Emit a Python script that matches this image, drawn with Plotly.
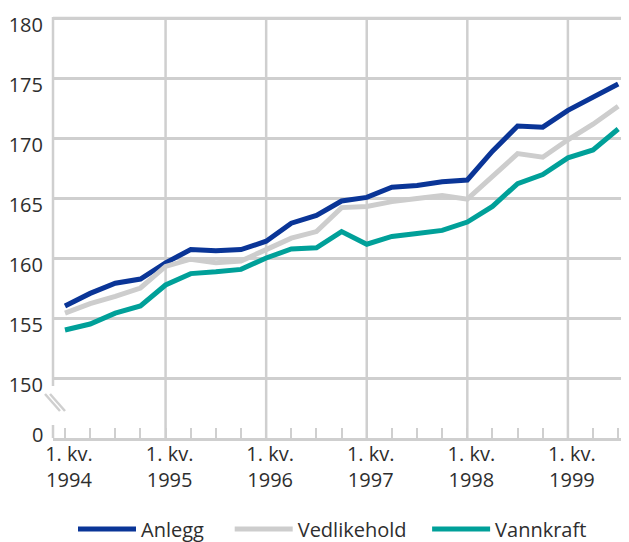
import plotly.graph_objects as go

quarters = list(range(23))  # 1. kv. 1994 .. 3. kv. 1999
year_ticks = [0, 4, 8, 12, 16, 20]
year_labels = ["1. kv.<br>1994", "1. kv.<br>1995", "1. kv.<br>1996",
               "1. kv.<br>1997", "1. kv.<br>1998", "1. kv.<br>1999"]
year_grid = [4, 8, 12, 16, 20]

anlegg = [156.0, 157.05, 157.9, 158.25, 159.6, 160.7, 160.6, 160.7, 161.4, 162.9,
          163.55, 164.75, 165.05, 165.9, 166.05, 166.35, 166.5, 168.9, 171.0, 170.9,
          172.3, 173.4, 174.5]
vedlikehold = [155.4, 156.2, 156.8, 157.5, 159.3, 159.9, 159.6, 159.75, 160.7, 161.65,
               162.2, 164.2, 164.3, 164.7, 164.95, 165.2, 164.9, 166.8, 168.7, 168.4,
               169.85, 171.15, 172.65]
vannkraft = [154.0, 154.5, 155.4, 156.0, 157.75, 158.7, 158.85, 159.05, 160.0, 160.75,
             160.85, 162.2, 161.15, 161.8, 162.05, 162.3, 163.0, 164.3, 166.2, 166.95,
             168.35, 169.0, 170.75]

y_tickvals = [150, 155, 160, 165, 170, 175, 180]
y_ticktext = ["150", "155", "160", "165", "170", "175", "180"]
y_top = 180
y_base = 145      # bottom of the broken axis
y_base_label = "0"

NB = "\u00a0"
series = [("Anlegg", anlegg, "#0a3597", NB * 4),
          ("Vedlikehold", vedlikehold, "#cdcdcd", NB * 3),
          ("Vannkraft", vannkraft, "#00a099", "")]

GRID = "#cfcfcf"
TXT = "#2e2e2e"
FONT = "Open Sans"

fig = go.Figure()
for name, vals, col, pad in series:
    fig.add_trace(go.Scatter(x=quarters, y=vals, name=name + pad, mode="lines",
                             line=dict(color=col, width=5)))

W, H = 621, 534  # page body has an 8px margin
xr = [-0.477, 22.43]
fig.update_layout(
    width=W, height=H,
    margin=dict(l=45, r=0, t=7, b=104, autoexpand=False),
    paper_bgcolor="white", plot_bgcolor="white",
    font=dict(family=FONT, size=20, color=TXT),
    showlegend=True,
    legend=dict(orientation="h", xref="container", yref="container",
                x=65 / W, xanchor="left", y=13 / H, yanchor="middle",
                itemwidth=58, font=dict(size=20, color=TXT), traceorder="normal"),
    xaxis=dict(range=xr, tickmode="array", tickvals=year_ticks, ticktext=year_labels,
               showgrid=False, zeroline=False, showline=True, linecolor=GRID, linewidth=2.5,
               ticks="inside", ticklen=10, tickwidth=2, tickcolor=GRID,
               ticklabelshift=4, ticklabelstandoff=-4, automargin=False,
               ticklabeloverflow="allow",
               minor=dict(dtick=1, tick0=0, ticks="inside", ticklen=10, tickwidth=2,
                          tickcolor=GRID, showgrid=False),
               fixedrange=True),
    yaxis=dict(range=[y_base, 180.25], tickmode="array", tickvals=y_tickvals,
               ticktext=y_ticktext, ticklabeloverflow="allow",
               showgrid=True, gridcolor=GRID, gridwidth=2.5, zeroline=False, showline=False,
               ticks="", ticklabelstandoff=9, ticklabelshift=7, automargin=False,
               fixedrange=True),
)

fig.add_annotation(text=y_base_label, xref="paper", x=0, xanchor="right", xshift=-8,
                   yref="y", y=y_base, yanchor="middle", yshift=4, showarrow=False,
                   font=dict(size=20, color=TXT, family=FONT))

# top grid line (plotly may drop the grid line nearest the plot edge)
fig.add_shape(type="line", xref="paper", yref="y", x0=0, x1=1, y0=y_top, y1=y_top,
              layer="below", line=dict(color=GRID, width=2.5))

# vertical year grid lines
for xv in year_grid:
    fig.add_shape(type="line", xref="x", yref="y", x0=xv, x1=xv, y0=y_base, y1=y_top,
                  layer="below", line=dict(color=GRID, width=2.5))

# broken y-axis line and break marks (decoration); pixel helpers in page coords
def py(p):
    return (438 - p) / 423.0
def px(p):
    return (p - 53) / 576.0

fig.add_shape(type="line", xref="paper", yref="paper", x0=0, x1=0, y0=py(386), y1=py(17),
              line=dict(color=GRID, width=2.5))
fig.add_shape(type="line", xref="paper", yref="paper", x0=0, x1=0, y0=0, y1=py(425),
              line=dict(color=GRID, width=2.5))
for dx in (0, 5):
    fig.add_shape(type="line", xref="paper", yref="paper",
                  x0=px(45 + dx), y0=py(394), x1=px(60 + dx), y1=py(411),
                  line=dict(color=GRID, width=2.5))

fig.write_html("out.html")
